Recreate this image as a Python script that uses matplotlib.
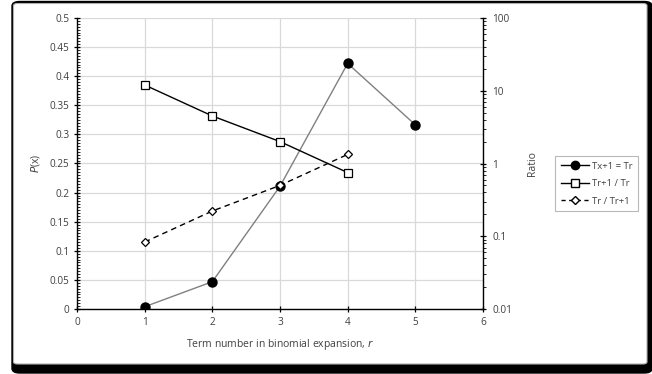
import matplotlib
matplotlib.use("Agg")
import matplotlib.pyplot as plt
from matplotlib.patches import FancyBboxPatch
from matplotlib.lines import Line2D
from matplotlib.ticker import MultipleLocator, LogLocator, NullFormatter, FixedLocator, FixedFormatter

# ---- data ----
r_terms = [1, 2, 3, 4, 5]
prob_values = [0.0039, 0.0469, 0.2109, 0.4219, 0.3164]
r_ratio = [1, 2, 3, 4]
ratio_next = [12.0, 4.5, 2.0, 0.75]
ratio_prev = [0.0833, 0.2222, 0.5, 1.3333]
series_labels = ["Tx+1 = Tr", "Tr+1 / Tr", "Tr / Tr+1"]
right_tick_values = [0.01, 0.1, 1, 10, 100]
right_tick_labels = ["0.01", "0.1", "1", "10", "100"]

plt.rcParams['font.family'] = ['Open Sans', 'DejaVu Sans']
FS = 7.2
TXT = "#404040"

W, H = 652, 374
fig = plt.figure(figsize=(W / 100, H / 100), dpi=100)

def px(x0, y0, x1, y1):
    return (x0 / W, 1 - y1 / H, (x1 - x0) / W, (y1 - y0) / H)

bx, by, bw, bh = px(12, 1.5, 652, 373)
shadow = FancyBboxPatch((bx, by), bw, bh, boxstyle="round,pad=0,rounding_size=0.012",
                        transform=fig.transFigure, facecolor="black", edgecolor="black",
                        zorder=-10)
fig.patches.append(shadow)
bx, by, bw, bh = px(13.5, 3.5, 647, 364)
inner = FancyBboxPatch((bx, by), bw, bh, boxstyle="round,pad=0,rounding_size=0.006",
                       transform=fig.transFigure, facecolor="white", edgecolor="#b0b0b0",
                       linewidth=0.8, zorder=-9)
fig.patches.append(inner)

left, right, top, bottom = 77, 483, 18, 309
ax = fig.add_axes([left / W, 1 - bottom / H, (right - left) / W, (bottom - top) / H])
ax.patch.set_alpha(0)

ax.set_xlim(0, 6)
ax.set_ylim(0, 0.5)
ax.xaxis.set_major_locator(MultipleLocator(1))
ax.yaxis.set_major_locator(MultipleLocator(0.05))
ax.yaxis.set_minor_locator(MultipleLocator(0.005))
ax.grid(True, which="major", color="#d9d9d9", linewidth=0.9, zorder=0)
ax.set_axisbelow(True)

for s in ["top", "right"]:
    ax.spines[s].set_visible(False)
for s in ["left", "bottom"]:
    ax.spines[s].set_linewidth(1.0)
    ax.spines[s].set_color("black")

ax.yaxis.set_major_formatter(matplotlib.ticker.FuncFormatter(lambda v, p: ("%g" % round(v, 3))))
ax.tick_params(axis="both", which="major", direction="inout", length=5, width=0.9,
               labelsize=FS, colors="black", labelcolor=TXT)
ax.tick_params(axis="y", which="minor", direction="in", length=2.5, width=0.6)
ax.tick_params(axis="x", which="major", pad=3)
ax.tick_params(axis="y", which="major", pad=3)

ax.plot(r_terms, prob_values, color="#808080", linewidth=1.0, marker="o",
        markersize=6.5, markerfacecolor="black", markeredgecolor="black", zorder=3)

ax.set_xlabel("Term number in binomial expansion, $\\it{r}$", fontsize=FS + 0.3, color=TXT)
ax.set_ylabel("$\\it{P}$(x)", fontsize=FS + 0.3, color=TXT)
ax.xaxis.set_label_coords(0.5, -0.095)
ax.yaxis.set_label_coords(-0.085, 0.5)

ax2 = ax.twinx()
ax2.set_yscale("log")
ax2.set_ylim(0.01, 100)
ax2.patch.set_alpha(0)
for s in ["top", "left", "bottom"]:
    ax2.spines[s].set_visible(False)
ax2.spines["right"].set_linewidth(1.0)
ax2.yaxis.set_major_locator(FixedLocator(right_tick_values))
ax2.yaxis.set_major_formatter(FixedFormatter(right_tick_labels))
ax2.yaxis.set_minor_locator(LogLocator(base=10, subs=range(2, 10)))
ax2.yaxis.set_minor_formatter(NullFormatter())
ax2.tick_params(axis="y", which="major", direction="inout", length=5, width=0.9,
                labelsize=FS, labelcolor=TXT, pad=4)
ax2.tick_params(axis="y", which="minor", direction="out", length=2.5, width=0.6)
ax2.set_ylabel("Ratio", fontsize=FS + 0.3, color=TXT)
ax2.yaxis.set_label_coords(1.108, 0.5)

ax2.plot(r_ratio, ratio_next, color="black", linewidth=1.0, marker="s", markersize=6,
         markerfacecolor="white", markeredgecolor="black", markeredgewidth=0.9, zorder=4)
ax2.plot(r_ratio, ratio_prev, color="black", linewidth=1.0, linestyle=(0, (4, 3)),
         marker="D", markersize=4, markerfacecolor="white", markeredgecolor="black",
         markeredgewidth=0.9, zorder=5)

handles = [
    Line2D([], [], color="black", linewidth=1.0, marker="o", markersize=6,
           markerfacecolor="black", markeredgecolor="black"),
    Line2D([], [], color="black", linewidth=1.0, marker="s", markersize=5.5,
           markerfacecolor="white", markeredgecolor="black"),
    Line2D([], [], color="black", linewidth=1.0, linestyle=(0, (3, 2.5)), marker="D",
           markersize=4, markerfacecolor="white", markeredgecolor="black"),
]
lx0, ly0, lx1, ly1 = 553, 153, 640, 214
leg = fig.legend(handles, series_labels, loc="center",
                 bbox_to_anchor=((lx0 + lx1) / 2 / W, 1 - (ly0 + ly1) / 2 / H),
                 bbox_transform=fig.transFigure, fontsize=FS - 0.4, frameon=True,
                 fancybox=False, edgecolor="#a6a6a6", handlelength=3.0,
                 handletextpad=0.3, labelspacing=0.9, borderpad=0.6, borderaxespad=0)
leg.get_frame().set_linewidth(0.8)
for t in leg.get_texts():
    t.set_color(TXT)

fig.savefig("out.png", dpi=100)
